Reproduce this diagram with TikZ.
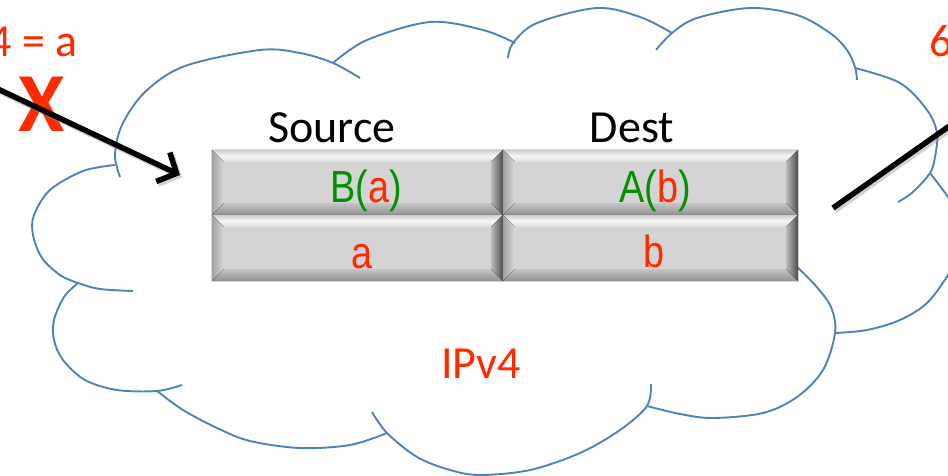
\documentclass[tikz,border=0pt]{standalone}
\usepackage{fontspec}
\setmainfont{Carlito}
\newfontfamily\cellfont[FakeStretch=0.84]{Liberation Sans}
\usetikzlibrary{arrows.meta}
\definecolor{cloudblue}{HTML}{4F81BD}
\definecolor{myred}{HTML}{FF2A00}
\definecolor{mygreen}{HTML}{009000}
\definecolor{cellgray}{HTML}{D4D4D4}
\definecolor{bevtopA}{HTML}{CDCDCD}
\definecolor{bevtopB}{HTML}{F6F6F6}
\definecolor{bevtopC}{HTML}{DDDDDD}
\definecolor{bevleftA}{HTML}{A0A0A0}
\definecolor{bevleftB}{HTML}{D8D8D8}
\definecolor{bevbotA}{HTML}{C4C4C4}
\definecolor{bevbotB}{HTML}{909090}
\definecolor{bevrightA}{HTML}{BBBBBB}
\definecolor{bevrightB}{HTML}{4A4A4A}
\newcommand\bevelcell[1]{%
  \fill[top color=bevtopA, bottom color=bevtopC, middle color=bevtopB]
    (#1.north west) -- (#1.north east) -- ([shift={(-12,12)}]#1.north east) -- ([shift={(12,12)}]#1.north west) -- cycle;
  \fill[left color=bevleftA, right color=bevleftB]
    (#1.north west) -- ([shift={(12,12)}]#1.north west) -- ([shift={(12,-12)}]#1.south west) -- (#1.south west) -- cycle;
  \fill[top color=bevbotA, bottom color=bevbotB]
    (#1.south west) -- ([shift={(12,-12)}]#1.south west) -- ([shift={(-12,-12)}]#1.south east) -- (#1.south east) -- cycle;
  \fill[left color=bevrightA, right color=bevrightB]
    (#1.north east) -- (#1.south east) -- ([shift={(-12,-12)}]#1.south east) -- ([shift={(-12,12)}]#1.north east) -- cycle;
}
\begin{document}
\begin{tikzpicture}[x=1pt,y=-1pt,
  cloudline/.style={draw=cloudblue, line width=1.9pt},
  lbl/.style={inner sep=0pt, anchor=base, font=\fontsize{46}{50}\selectfont},
  celltxt/.style={inner sep=0pt, anchor=base, font=\cellfont\fontsize{45}{50}\selectfont, text=myred},
  cellbox/.style={rectangle, inner sep=0pt, fill=cellgray},
  thickline/.style={line width=5.5pt, draw=black},
  shadowline/.style={line width=5.5pt, draw=black!45, opacity=0.4},
  barb/.style={-{Straight Barb[length=15pt, width=32pt]}}
]
\useasboundingbox (0,0) rectangle (948,476);

% cloud lobes
\draw[cloudline] plot[smooth, tension=0.55] coordinates {(120,177) (115,155) (122,125) (145,92) (185,66) (260,50) (300,53) (333,63) (360,78)};
\draw[cloudline] plot[smooth, tension=0.55] coordinates {(115,165) (83,171) (50,190) (34,215) (33,235) (42,258) (60,275) (78,283) (100,289) (133,291)};
\draw[cloudline] plot[smooth, tension=0.55] coordinates {(78,283) (64,297) (54,320) (54,340) (63,360) (85,380) (117,390) (157,391) (182,385)};
\draw[cloudline] plot[smooth, tension=0.55] coordinates {(157,391) (183,410) (217,428) (250,441) (300,448) (350,445) (387,433)};
\draw[cloudline] plot[smooth, tension=0.55] coordinates {(372,412) (387,433) (417,457) (450,470) (480,475) (530,470) (580,453) (620,430) (647,406) (651,384)};
\draw[cloudline] plot[smooth, tension=0.55] coordinates {(795,265) (815,285) (831,307) (835,333) (823,370) (797,397) (763,413) (713,418) (680,414) (647,406)};
\draw[cloudline] plot[smooth, tension=0.55] coordinates {(835,333) (867,330) (900,320) (927,303) (948,275) (960,250)};
\draw[cloudline] plot[smooth, tension=0.55] coordinates {(930,173) (948,197) (962,220)};
\draw[cloudline] plot[smooth, tension=0.55] coordinates {(855,68) (900,83) (927,110) (937,133) (935,157) (930,173) (913,192) (898,202)};
\draw[cloudline] plot[smooth, tension=0.55] coordinates {(656,50) (672,33) (697,18) (750,8) (797,15) (830,33) (847,50) (855,67) (857,80)};
\draw[cloudline] plot[smooth, tension=0.55] coordinates {(508,58) (513,43) (537,23) (597,8) (640,17) (672,33)};
\draw[cloudline] plot[smooth, tension=0.55] coordinates {(333,63) (367,40) (430,22) (483,30) (515,43)};

% table cells
\node[cellbox, minimum width=291pt, minimum height=65pt] (c11) at (357.5,182.5) {};
\node[cellbox, minimum width=295pt, minimum height=65pt] (c12) at (650.5,182.5) {};
\node[cellbox, minimum width=291pt, minimum height=66pt] (c21) at (357.5,248) {};
\node[cellbox, minimum width=295pt, minimum height=66pt] (c22) at (650.5,248) {};
\bevelcell{c11}
\bevelcell{c12}
\bevelcell{c21}
\bevelcell{c22}

% cell texts
\node[celltxt] (t11) at (366,202) {\textcolor{mygreen}{B(}\textcolor{myred}{a}\textcolor{mygreen}{)}};
\node[celltxt] (t12) at (655,202) {\textcolor{mygreen}{A(}\textcolor{myred}{b}\textcolor{mygreen}{)}};
\node[celltxt] (t21) at (362,268) {a};
\node[celltxt] (t22) at (654,267) {b};

% headings
\node[lbl] (src) at (332,143) {Source};
\node[lbl] (dst) at (632,143) {Dest};
\node[lbl, text=myred] (ipv4) at (481,378) {IPv4};
\node[lbl, text=myred, anchor=base east] (leftlbl) at (78,57) {4 = a};
\node[lbl, text=myred, anchor=base west] (rightlbl) at (929,57) {6};
\node[inner sep=0pt, anchor=base, text=myred, font=\bfseries\fontsize{84}{90}\selectfont] (cross) at (41.5,132) {X};

% connectors
\coordinate (la) at (-25,78.2);
\coordinate (lb) at (180,175);
\coordinate (ra) at (833,208);
\coordinate (rb) at (975,108);
\draw[shadowline, barb] ([shift={(2,2.5)}]la) -- ([shift={(2,2.5)}]lb);
\draw[thickline, barb] (la) -- (lb);
\draw[shadowline] ([shift={(2,2.5)}]ra) -- ([shift={(2,2.5)}]rb);
\draw[thickline] (ra) -- (rb);
\end{tikzpicture}
\end{document}
